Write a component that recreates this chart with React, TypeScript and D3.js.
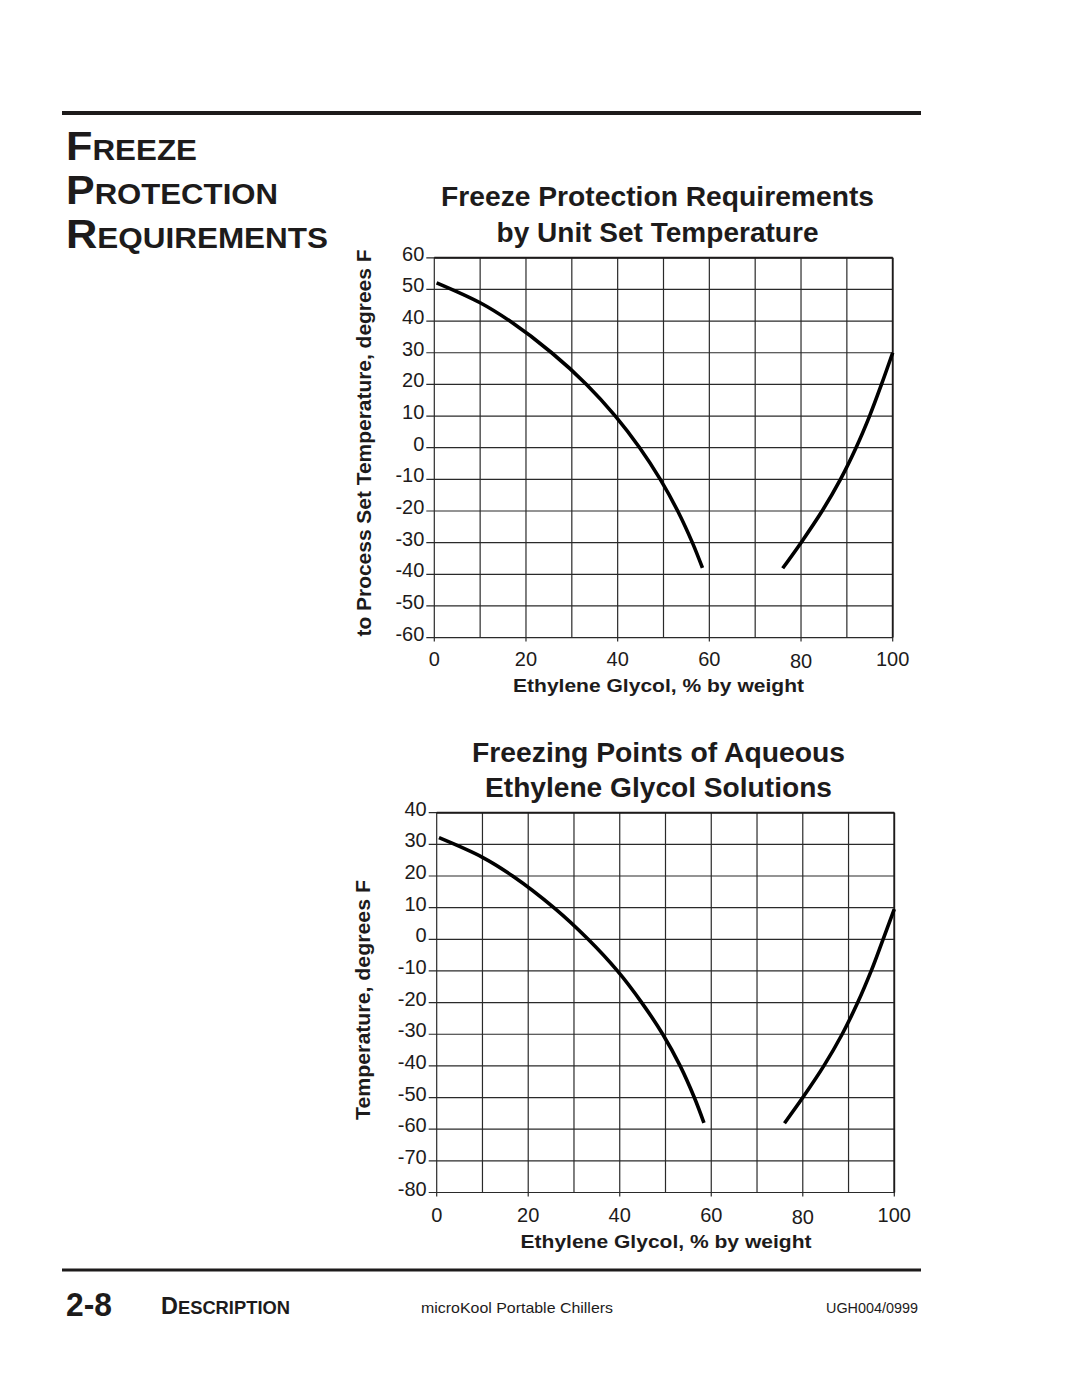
import React from "react";
import * as d3 from "d3";

// ---- data ----
const xTicks = [0, 20, 40, 60, 80, 100];
const xGrid = [0, 10, 20, 30, 40, 50, 60, 70, 80, 90, 100];

const topYTicks = [60, 50, 40, 30, 20, 10, 0, -10, -20, -30, -40, -50, -60];
const botYTicks = [40, 30, 20, 10, 0, -10, -20, -30, -40, -50, -60, -70, -80];

// Freeze protection requirements (set temp) - low glycol branch
const topLeftX = [0.5, 10, 16.5, 25.6, 33.2, 39.5, 44.8, 49.3, 53.1, 56.3, 58.5];
const topLeftY = [52.1, 45.8, 40, 30, 20, 10, 0, -10, -20, -30, -38];
// high glycol branch
const topRightX = [76, 80, 84.6, 88.6, 92, 94.95, 97.55, 100];
const topRightY = [-38.1, -30, -20, -10, 0, 10, 20, 30];

// Freezing points of aqueous ethylene glycol
const botLeftX = [0.5, 10, 16.6, 25.6, 33.1, 39.5, 44.8, 49.4, 53.2, 56.3, 58.4];
const botLeftY = [32.1, 25.9, 20, 10, 0, -10, -20, -30, -40, -50, -58];
const botRightX = [76, 80, 84.6, 88.6, 92, 94.95, 97.55, 100];
const botRightY = [-58.1, -50, -40, -30, -20, -10, 0, 9.5];

const INK = "#1d1b1b";
const FONT = "'Liberation Sans', Arial, Helvetica, sans-serif";

type ChartProps = {
  left: number; right: number; top: number; bottom: number;
  yTicks: number[];
  series: { xs: number[]; ys: number[] }[];
  title1: string; title2: string; titleY1: number; titleY2: number; titleW1: number; titleW2: number;
  titleCX: number; xLabelCX: number;
  yLabel: string; yLabelLen: number; yLabelX: number; yLabelCY: number;
  xLabelY: number; xTickY: number;
};

function Chart(p: ChartProps) {
  const x = d3.scaleLinear().domain([0, 100]).range([p.left, p.right]);
  const yMax = p.yTicks[0];
  const yMin = p.yTicks[p.yTicks.length - 1];
  const y = d3.scaleLinear().domain([yMin, yMax]).range([p.bottom, p.top]);
  const line = d3
    .line<[number, number]>()
    .x((d) => x(d[0]))
    .y((d) => y(d[1]))
    .curve(d3.curveCatmullRom.alpha(0.5));
  return (
    <g>
      <text x={p.titleCX} y={p.titleY1} textAnchor="middle" fontFamily={FONT} fontWeight="bold" fontSize={28}
        fill={INK} textLength={p.titleW1} lengthAdjust="spacingAndGlyphs">{p.title1}</text>
      <text x={p.titleCX} y={p.titleY2} textAnchor="middle" fontFamily={FONT} fontWeight="bold" fontSize={28}
        fill={INK} textLength={p.titleW2} lengthAdjust="spacingAndGlyphs">{p.title2}</text>
      {/* horizontal grid */}
      {p.yTicks.map((t) => (
        <line key={"h" + t} x1={p.left - 8} x2={p.right} y1={y(t)} y2={y(t)} stroke="#2a2a2a" strokeWidth={1.2} />
      ))}
      {/* vertical grid */}
      {xGrid.map((t) => (
        <line key={"v" + t} x1={x(t)} x2={x(t)} y1={p.top} y2={p.bottom + (t % 20 === 0 ? 4 : 0)}
          stroke="#2a2a2a" strokeWidth={1.2} />
      ))}
      <line x1={p.left} x2={p.right} y1={p.top} y2={p.top} stroke={INK} strokeWidth={2} />
      <line x1={p.right} x2={p.right} y1={p.top} y2={p.bottom} stroke={INK} strokeWidth={1.8} />
      {/* y tick labels */}
      {p.yTicks.map((t) => (
        <text key={"yl" + t} x={p.left - 10} y={y(t) + 3} textAnchor="end" fontFamily={FONT} fontSize={20} fill={INK}>
          {t}
        </text>
      ))}
      {/* x tick labels */}
      {xTicks.map((t) => (
        <text key={"xl" + t} x={x(t)} y={p.xTickY + (t === 80 ? 2 : 0)} textAnchor="middle" fontFamily={FONT} fontSize={20} fill={INK}>
          {t}
        </text>
      ))}
      <text x={p.xLabelCX} y={p.xLabelY} textAnchor="middle" fontFamily={FONT} fontWeight="bold" fontSize={19} fill={INK}
        textLength={291} lengthAdjust="spacingAndGlyphs">Ethylene Glycol, % by weight</text>
      <text transform={`translate(${p.yLabelX},${p.yLabelCY}) rotate(-90)`} textAnchor="middle" fontFamily={FONT}
        fontWeight="bold" fontSize={20} fill={INK} textLength={p.yLabelLen} lengthAdjust="spacingAndGlyphs">{p.yLabel}</text>
      {p.series.map((s, i) => (
        <path key={"s" + i} d={line(s.xs.map((v, j) => [v, s.ys[j]] as [number, number])) || ""}
          fill="none" stroke="#000" strokeWidth={3.6} strokeLinecap="butt" strokeLinejoin="round" />
      ))}
    </g>
  );
}

export default function App() {
  return (
    <svg width={1080} height={1397} style={{ position: "absolute", left: 0, top: 0, background: "#fff" }}>
      <rect x={0} y={0} width={1080} height={1397} fill="#fff" />
      {/* top rule */}
      <line x1={62} x2={921} y1={113} y2={113} stroke={INK} strokeWidth={4} />
      {/* section heading */}
      <g fontFamily={FONT} fontWeight="bold" fill={INK}>
        <text x={66} y={160} textLength={131} lengthAdjust="spacingAndGlyphs">
          <tspan fontSize={40}>F</tspan><tspan fontSize={29}>REEZE</tspan>
        </text>
        <text x={66} y={204} textLength={212} lengthAdjust="spacingAndGlyphs">
          <tspan fontSize={40}>P</tspan><tspan fontSize={29}>ROTECTION</tspan>
        </text>
        <text x={66} y={248} textLength={262} lengthAdjust="spacingAndGlyphs">
          <tspan fontSize={40}>R</tspan><tspan fontSize={29}>EQUIREMENTS</tspan>
        </text>
      </g>
      <Chart left={434.3} right={892.7} top={257.8} bottom={637.6} yTicks={topYTicks}
        series={[{ xs: topLeftX, ys: topLeftY }, { xs: topRightX, ys: topRightY }]}
        title1="Freeze Protection Requirements" title2="by Unit Set Temperature"
        titleY1={206} titleY2={242} titleW1={433} titleW2={322} titleCX={657.5} xLabelCX={658.5}
        yLabel="to Process Set Temperature, degrees F" yLabelLen={387} yLabelX={371} yLabelCY={443}
        xLabelY={692} xTickY={666} />
      <Chart left={436.7} right={894.3} top={812.7} bottom={1192.5} yTicks={botYTicks}
        series={[{ xs: botLeftX, ys: botLeftY }, { xs: botRightX, ys: botRightY }]}
        title1="Freezing Points of Aqueous" title2="Ethylene Glycol Solutions"
        titleY1={762} titleY2={797} titleW1={373} titleW2={347} titleCX={658.5} xLabelCX={666}
        yLabel="Temperature, degrees F" yLabelLen={240} yLabelX={370} yLabelCY={1000}
        xLabelY={1248} xTickY={1222} />
      {/* footer */}
      <line x1={62} x2={921} y1={1270} y2={1270} stroke={INK} strokeWidth={3} />
      <g fontFamily={FONT} fill={INK}>
        <text x={66} y={1316} fontWeight="bold" fontSize={33} textLength={46} lengthAdjust="spacingAndGlyphs">2-8</text>
        <text x={161} y={1314} fontWeight="bold" textLength={129} lengthAdjust="spacingAndGlyphs">
          <tspan fontSize={23}>D</tspan><tspan fontSize={18}>ESCRIPTION</tspan>
        </text>
        <text x={421} y={1313} fontSize={15} textLength={192} lengthAdjust="spacingAndGlyphs">microKool Portable Chillers</text>
        <text x={918} y={1313} fontSize={15} textAnchor="end" textLength={92} lengthAdjust="spacingAndGlyphs">UGH004/0999</text>
      </g>
    </svg>
  );
}
